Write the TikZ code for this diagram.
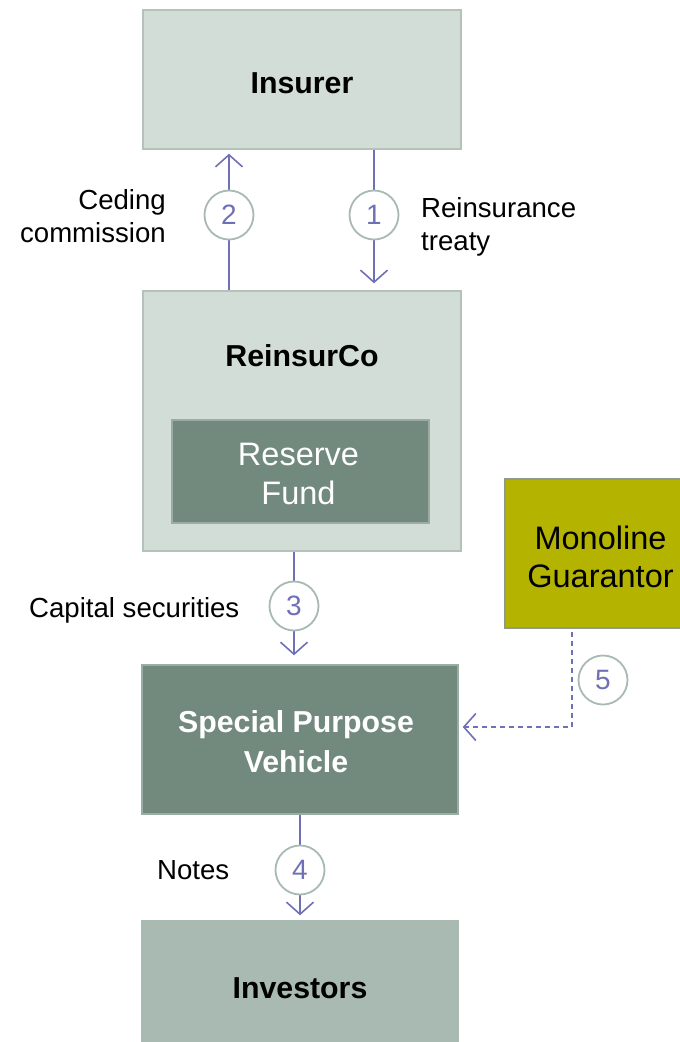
\documentclass[tikz,border=0pt]{standalone}
\usepackage{fontspec}
\setmainfont{Liberation Sans}
\usetikzlibrary{arrows.meta}

\definecolor{paleBox}{HTML}{D3DDD8}
\definecolor{paleEdge}{HTML}{B3C3BA}
\definecolor{darkBox}{HTML}{728A7E}
\definecolor{darkEdge}{HTML}{9AADA3}
\definecolor{midBox}{HTML}{A9BAB2}
\definecolor{oliveBox}{HTML}{B4B400}
\definecolor{oliveEdge}{HTML}{8E9A8C}
\definecolor{flowCol}{HTML}{7070B6}
\definecolor{ringCol}{HTML}{A8BAB1}

\tikzset{
  x=1pt, y=-1pt,
  box/.style={rectangle, inner sep=0, line width=1.5pt},
  palebox/.style={box, fill=paleBox, draw=paleEdge},
  darkbox/.style={box, fill=darkBox, draw=darkEdge},
  title/.style={inner sep=0, align=center, font=\fontsize{30.3}{40}\selectfont\bfseries},
  plain/.style={inner sep=0, font=\fontsize{27.6}{33}\selectfont},
  big/.style={inner sep=0, align=center, font=\fontsize{32.5}{38.5}\selectfont},
  flow/.style={draw=flowCol, line width=1.6pt, -{Straight Barb[length=12pt,width=27pt,line width=1.6pt]}},
  num/.style={circle, draw=ringCol, fill=white, line width=1.8pt, minimum size=49pt,
              inner sep=0, text=flowCol, font=\fontsize{28}{28}\selectfont},
}

\begin{document}
\begin{tikzpicture}
\useasboundingbox (0,0) rectangle (680,1042);

% boxes
\node[palebox, minimum width=318pt, minimum height=139pt] (ins) at (302,79.5) {};
\node[title] (insT) at (302,83) {Insurer};

\node[palebox, minimum width=318pt, minimum height=260pt] (rco) at (302,421) {};
\node[title] (rcoT) at (302,356) {ReinsurCo};

\node[darkbox, minimum width=257pt, minimum height=103pt] (fund) at (300.5,471.5) {};
\node[big, text=white] (fundT) at (298.5,474) {Reserve\\Fund};

\node[box, fill=oliveBox, draw=oliveEdge, minimum width=185pt, minimum height=149pt] (mono) at (597.5,553.5) {};
\node[big] (monoT) at (600.5,557) {Monoline\\Guarantor};

\node[darkbox, minimum width=316pt, minimum height=149pt] (spv) at (300,739.5) {};
\node[title, text=white] (spvT) at (296,742) {Special Purpose\\Vehicle};

\node[box, fill=midBox, minimum width=318pt, minimum height=140pt] (inv) at (300,990) {};
\node[title] (invT) at (300,988) {Investors};

% connectors
\draw[flow, shorten >=4pt] ([xshift=-73pt]rco.north) -- ([xshift=-73pt]ins.south);
\draw[flow, shorten >=7pt] ([xshift=72pt]ins.south) -- ([xshift=72pt]rco.north);
\draw[flow, shorten >=9pt] ([xshift=-8pt]rco.south) -- ([xshift=-6pt]spv.north);
\draw[flow, shorten >=4pt] (spv.south) -- (inv.north);
\draw[flow, dashed, dash pattern=on 5pt off 4pt, shorten <=3pt, shorten >=4pt]
  ([xshift=-25.5pt]mono.south) |- ([yshift=12.5pt]spv.east);

% step numbers
\node[num] (n1) at (374,215) {1};
\node[num] (n2) at (229,215) {2};
\node[num] (n3) at (294,606) {3};
\node[num] (n4) at (300,870) {4};
\node[num] (n5) at (603,680) {5};

% flow labels
\node[plain, align=right, anchor=east] (lCed) at (166,216.5) {Ceding\\commission};
\node[plain, align=left, anchor=west] (lRe) at (421,226.5) {Reinsurance\\treaty};
\node[plain, anchor=west] (lCap) at (29,610) {Capital securities};
\node[plain, anchor=west] (lNot) at (157,870) {Notes};
\end{tikzpicture}
\end{document}
